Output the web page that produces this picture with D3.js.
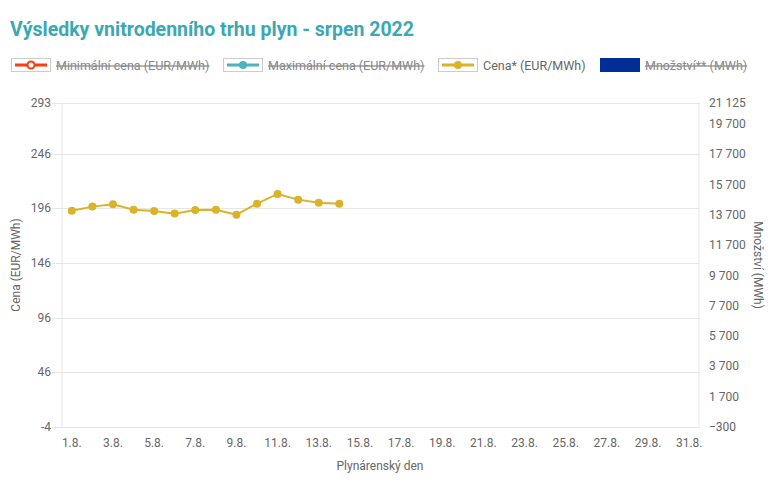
<!DOCTYPE html>
<html><head><meta charset="utf-8">
<script src="https://cdn.jsdelivr.net/npm/d3@7"></script>
<style>body{margin:0;background:#fff;font-family:Roboto,"Noto Sans",sans-serif;}</style>
</head><body>
<svg id="c" width="780" height="485"></svg>
<script>
const days = d3.range(1, 32).map(d => d + ".8.");
const priceDays = ["1.8.","2.8.","3.8.","4.8.","5.8.","6.8.","7.8.","8.8.","9.8.","10.8.","11.8.","12.8.","13.8.","14.8."];
const price = [194.0, 197.7, 199.9, 194.9, 193.7, 191.3, 194.6, 194.9, 190.3, 200.4, 209.3, 204.1, 201.3, 200.4];
const leftTicks = [-4, 46, 96, 146, 196, 246, 293];
const rightTicks = [-300, 1700, 3700, 5700, 7700, 9700, 11700, 13700, 15700, 17700, 19700, 21125];
const xTickLabels = days.filter((d, i) => i % 2 === 0);
const legendItems = [
  {name: "Minimální cena (EUR/MWh)", color: "#ff3a0f", type: "line", hollow: true, hidden: true},
  {name: "Maximální cena (EUR/MWh)", color: "#4cb3bd", type: "line", hollow: false, hidden: true},
  {name: "Cena* (EUR/MWh)", color: "#dab32a", type: "line", hollow: false, hidden: false},
  {name: "Množství** (MWh)", color: "#002e97", type: "rect", hidden: true}
];

const svg = d3.select("#c");
const L = 61.5, R = 699.5, T = 102.5, B = 427;
const x = d3.scaleBand().domain(days).range([L, R]);
const y = d3.scaleLinear().domain([-4, 293]).range([B, T]);
const y2 = d3.scaleLinear().domain([-300, 21125]).range([B, T]);
const grey = "#666";

svg.append("text").attr("x", 10).attr("y", 36).attr("fill", "#3ba8b3")
  .attr("font-size", 19.5).attr("font-weight", 700).text("Výsledky vnitrodenního trhu plyn - srpen 2022");

// legend
const lx = [11, 223, 438, 600];
legendItems.forEach((it, i) => {
  const g = svg.append("g").attr("transform", `translate(${lx[i]},58)`);
  if (it.type === "line") {
    g.append("rect").attr("x", 0.5).attr("y", 0.5).attr("width", 39).attr("height", 13)
      .attr("fill", "#fff").attr("stroke", "#ccc");
    g.append("line").attr("x1", 4).attr("x2", 36).attr("y1", 7).attr("y2", 7)
      .attr("stroke", it.color).attr("stroke-width", 3);
    g.append("circle").attr("cx", 20).attr("cy", 7).attr("r", it.hollow ? 3.5 : 4)
      .attr("fill", it.hollow ? "#fff" : it.color).attr("stroke", it.color).attr("stroke-width", it.hollow ? 2 : 0);
  } else {
    g.append("rect").attr("x", 0).attr("y", 0).attr("width", 40).attr("height", 14).attr("fill", it.color);
  }
  g.append("text").attr("x", 45).attr("y", 12).attr("font-size", 12.5)
    .attr("fill", it.hidden ? "#888" : grey)
    .attr("text-decoration", it.hidden ? "line-through" : null).text(it.name);
});

// grid + left axis
const gl = svg.append("g");
leftTicks.forEach(t => {
  gl.append("line").attr("x1", 52).attr("x2", R).attr("y1", Math.round(y(t)) + 0.5).attr("y2", Math.round(y(t)) + 0.5)
    .attr("stroke", "#e6e6e6");
  gl.append("text").attr("x", 51).attr("y", y(t) + 4).attr("text-anchor", "end")
    .attr("font-size", 12).attr("fill", grey).text(t);
});
gl.append("line").attr("x1", 62).attr("x2", 62).attr("y1", T).attr("y2", B).attr("stroke", "#e6e6e6");
gl.append("line").attr("x1", 699).attr("x2", 699).attr("y1", T).attr("y2", B).attr("stroke", "#e6e6e6");

// right axis
const fmt = v => d3.format(",")(v).replace(/,/g, "\u00a0");
rightTicks.forEach(t => {
  svg.append("text").attr("x", 709).attr("y", y2(t) + 4).attr("font-size", 12).attr("fill", grey).text(fmt(t));
});

// x axis labels
xTickLabels.forEach(d => {
  svg.append("text").attr("x", x(d) + x.bandwidth() / 2).attr("y", 447).attr("text-anchor", "middle")
    .attr("font-size", 12).attr("fill", grey).text(d);
});

// axis titles
svg.append("text").attr("x", 380).attr("y", 470).attr("text-anchor", "middle").attr("font-size", 12).attr("fill", grey).text("Plynárenský den");
svg.append("text").attr("transform", `translate(20,265) rotate(-90)`).attr("text-anchor", "middle").attr("font-size", 12).attr("fill", grey).text("Cena (EUR/MWh)");
svg.append("text").attr("transform", `translate(754,265) rotate(90)`).attr("text-anchor", "middle").attr("font-size", 12).attr("fill", grey).text("Množství (MWh)");

// series
const cx = d => x(d) + x.bandwidth() / 2;
const pts = priceDays.map((d, i) => [cx(d), y(price[i])]);
svg.append("path").attr("d", d3.line()(pts)).attr("fill", "none").attr("stroke", "#dab32a").attr("stroke-width", 2);
svg.selectAll("circle.p").data(pts).enter().append("circle").attr("class", "p")
  .attr("cx", p => p[0]).attr("cy", p => p[1]).attr("r", 4).attr("fill", "#dab32a");
</script>
</body></html>
